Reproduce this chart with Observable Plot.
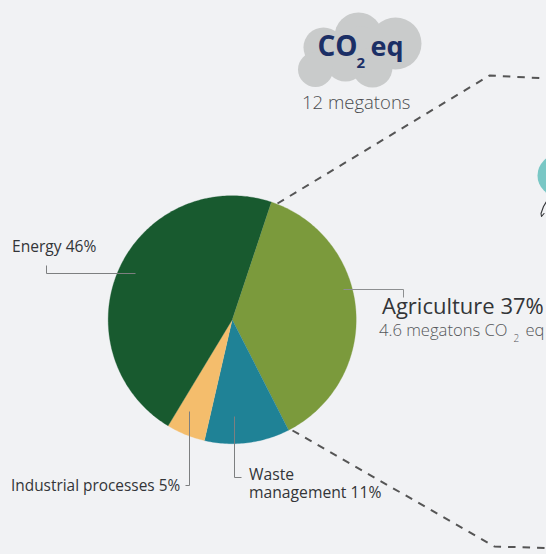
<!DOCTYPE html>
<html><head><meta charset="utf-8">
<script src="https://cdn.jsdelivr.net/npm/d3@7"></script>
<script src="https://cdn.jsdelivr.net/npm/@observablehq/plot@0.6"></script>
<style>html,body{margin:0;padding:0;background:#f1f2f4;overflow:hidden}svg{display:block}</style>
</head><body><script>
const sectors = ["Agriculture","Waste management","Industrial processes","Energy"];
const shares = [37,11,5,46];
const sectorColors = ["#7b9a3c","#1f8296","#f4bd6c","#185a2f"];

const W=546,H=554,cx=231.7,cy=319.2,R=124;
const arcs=d3.pie().sort(null).startAngle(18.4*Math.PI/180).endAngle((360+18.4)*Math.PI/180)(shares);
const wedges=arcs.flatMap((a,i)=>{
  const n=Math.ceil((a.endAngle-a.startAngle)*60);
  const pts=[{s:sectors[i],x:cx,y:cy}];
  for(let k=0;k<=n;k++){const t=a.startAngle+(a.endAngle-a.startAngle)*k/n;
    pts.push({s:sectors[i],x:cx+R*Math.sin(t),y:cy-R*Math.cos(t)});}
  return pts;
});
const cloud=[[315,69,17.5],[323,47,20],[358,36,24],[395,43,26],[372,67,20],[345,61,20],[360,50,24]];
const seg=(pts)=>pts.map(([x,y])=>({x,y}));
const T=(text,x,y,size,opts={})=>Plot.text([text],{x:()=>x,y:()=>y,text:d=>d,fontSize:size,textAnchor:"start",lineAnchor:"middle",fill:"#333538",...opts});
const F="'Open Sans'";
const dash={x:"x",y:"y",stroke:"#555",strokeWidth:2,strokeDasharray:"7.5 7",strokeLinecap:"butt"};
const lead={x:"x",y:"y",stroke:"#7d7f80",strokeWidth:1,strokeLinecap:"butt"};
const chart=Plot.plot({
  width:W,height:H,margin:0,style:{background:"#f1f2f4",fontFamily:F},
  x:{domain:[0,W],range:[0,W],axis:null},
  y:{domain:[0,H],range:[0,H],axis:null},
  r:{type:"identity"},
  color:{domain:sectors,range:sectorColors},
  marks:[
    Plot.dot([[558,175]],{x:d=>d[0],y:d=>d[1],r:21,fill:"#79c7c5"}),
    Plot.line(seg([[546,201],[543,206],[540.5,213],[541,216],[543.5,213]]),{x:"x",y:"y",stroke:"#333538",strokeWidth:1.1}),
    Plot.line(seg([[277,203],[489,75],[546,78]]),dash),
    Plot.line(seg([[292,430],[494,546],[546,547.5]]),dash),
    Plot.line(wedges,{x:"x",y:"y",z:"s",fill:"s",stroke:"s",strokeWidth:0.3}),
    Plot.line(seg([[135,273],[46,273],[46,265]]),lead),
    Plot.line(seg([[343,289],[403,289],[403,297]]),{...lead,stroke:"#8d8f90"}),
    Plot.line(seg([[189,411],[189,485],[185,485]]),lead),
    Plot.line(seg([[234,416],[234,477],[241,477]]),lead),
    Plot.dot(cloud,{x:d=>d[0],y:d=>d[1],r:d=>d[2],fill:"#c9cbcb"}),
    T("CO",317,47,28,{fill:"#1b2f66",fontWeight:700}),
    T("2",356,63,15,{fill:"#1b2f66",fontWeight:700}),
    T("eq",370,47,27,{fill:"#1b2f66",fontWeight:700}),
    T("12 megatons",301.5,103,18.5,{fill:"#4a4c4f",fontWeight:300}),
    T("Energy 46%",11.5,246,15.6),
    T("Agriculture 37%",381.5,306,22),
    T("4.6 megatons CO",378.5,330,16.6,{fill:"#55575a",fontWeight:300}),
    T("2",513,338,10,{fill:"#55575a",fontWeight:300}),
    T("eq",525,330,16.6,{fill:"#55575a",fontWeight:300}),
    T("Industrial processes 5%",10.5,486,15.4),
    T("Waste\nmanagement 11%",248.5,483,15.7,{lineHeight:1.15})
  ]
});
document.body.appendChild(chart);
</script></body></html>
